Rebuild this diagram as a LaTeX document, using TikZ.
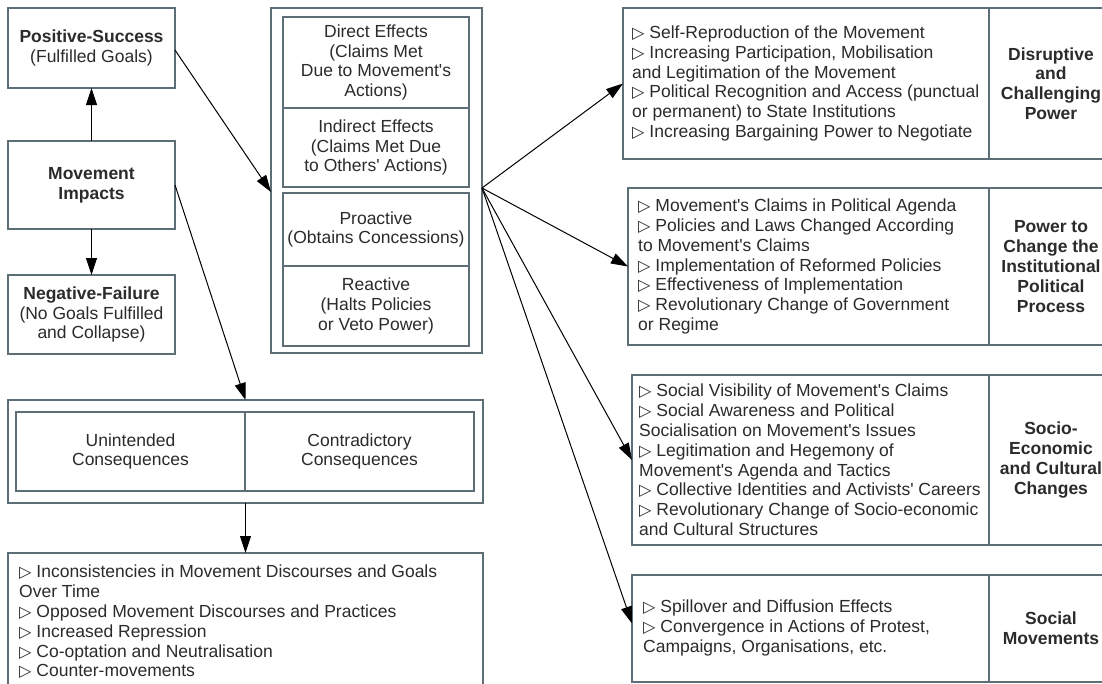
\documentclass[tikz,border=0pt]{standalone}
\usepackage{fontspec}
\setmainfont{Liberation Sans}
\newfontfamily\dejavu{DejaVu Sans}
\usetikzlibrary{arrows.meta}
\newcommand\tri{{\dejavu\bfseries\scalebox{0.92}{▷}}\ }
\newcommand\ap{\textquotesingle}
\definecolor{bord}{HTML}{5E6E76}
\definecolor{txt}{HTML}{2B2B2B}
\begin{document}
\begin{tikzpicture}[x=1pt,y=-1pt,
  box/.style={draw=bord,line width=1.2pt,inner sep=0pt,outer sep=0pt,anchor=north west,
    text=txt,font=\fontsize{17.5}{19.8}\selectfont,align=center},
  bbox/.style={box,font=\fontsize{17.5}{19.8}\selectfont\bfseries},
  list/.style={text=txt,font=\fontsize{17.5}{19.8}\selectfont,align=left,inner sep=0pt,anchor=west},
  arr/.style={-{Triangle[length=17pt,width=11pt]},line width=1pt,black}]
\useasboundingbox (0,0) rectangle (1102,683);
\fill[white] (0,0) rectangle (1102,683);
\clip (0,0) rectangle (1102,683);

% left column
\node[box,minimum width=167,minimum height=80] (pos) at (8,8) {\textbf{Positive-Success}\\(Fulfilled Goals)};
\node[bbox,minimum width=167,minimum height=88] (mi) at (8,141) {Movement\\Impacts};
\node[box,minimum width=167,minimum height=79] (neg) at (8,275) {\textbf{Negative-Failure}\\(No Goals Fulfilled\\and Collapse)};

% effects
\node[box,minimum width=211,minimum height=345] (eff) at (271,8) {};
\node[box,minimum width=186,minimum height=91] (d1) at (283,17) {Direct Effects\\(Claims Met\\Due to Movement\ap s\\Actions)};
\node[box,minimum width=186,minimum height=79] (d2) at (283,108) {Indirect Effects\\(Claims Met Due\\to Others\ap{} Actions)};
\node[box,minimum width=186,minimum height=73] (p1) at (283,193) {Proactive\\(Obtains Concessions)};
\node[box,minimum width=186,minimum height=80] (p2) at (283,266) {Reactive\\(Halts Policies\\or Veto Power)};

% consequences
\node[box,minimum width=475,minimum height=103] (cons) at (8,400) {};
\node[box,minimum width=229,minimum height=79] (un) at (16,412) {Unintended\\Consequences};
\node[box,minimum width=229,minimum height=79] (co) at (245,412) {Contradictory\\Consequences};
\node[box,minimum width=475,minimum height=140] (bot) at (8,553) {};
\node[list] (botl) at (19,622) {\tri Inconsistencies in Movement Discourses and Goals\\
Over Time\\
\tri Opposed Movement Discourses and Practices\\
\tri Increased Repression\\
\tri Co-optation and Neutralisation\\
\tri Counter-movements};

% right column
\node[box,minimum width=366,minimum height=151] (r1) at (623,8) {};
\node[bbox,minimum width=124,minimum height=151] (l1) at (989,8) {Disruptive\\and\\Challenging\\Power};
\node[list] (t1) at (632,83.5) {\tri Self-Reproduction of the Movement\\
\tri Increasing Participation, Mobilisation\\
and Legitimation of the Movement\\
\tri Political Recognition and Access (punctual\\
or permanent) to State Institutions\\
\tri Increasing Bargaining Power to Negotiate};

\node[box,minimum width=361,minimum height=157] (r2) at (628,188) {};
\node[bbox,minimum width=124,minimum height=157] (l2) at (989,188) {Power to\\Change the\\Institutional\\Political\\Process};
\node[list] (t2) at (638,266.5) {\tri Movement\ap s Claims in Political Agenda\\
\tri Policies and Laws Changed According\\
to Movement\ap s Claims\\
\tri Implementation of Reformed Policies\\
\tri Effectiveness of Implementation\\
\tri Revolutionary Change of Government\\
or Regime};

\node[box,minimum width=357,minimum height=170] (r3) at (632,375) {};
\node[bbox,minimum width=124,minimum height=170] (l3) at (989,375) {Socio-\\Economic\\and Cultural\\Changes};
\node[list] (t3) at (639,460) {\tri Social Visibility of Movement\ap s Claims\\
\tri Social Awareness and Political\\
Socialisation on Movement\ap s Issues\\
\tri Legitimation and Hegemony of\\
Movement\ap s Agenda and Tactics\\
\tri Collective Identities and Activists\ap{} Careers\\
\tri Revolutionary Change of Socio-economic\\
and Cultural Structures};

\node[box,minimum width=357,minimum height=107] (r4) at (632,575) {};
\node[bbox,minimum width=124,minimum height=107] (l4) at (989,575) {Social\\Movements};
\node[list] (t4) at (643,628) {\tri Spillover and Diffusion Effects\\
\tri Convergence in Actions of Protest,\\
Campaigns, Organisations, etc.};

% connectors
\draw[arr] (mi.north) -- (pos.south);
\draw[arr] (mi.south) -- (neg.north);
\draw[arr] ([yshift=-2pt]pos.east) -- ([yshift=-11.5pt]eff.west);
\draw[arr] (mi.east) -- (cons.north);
\draw[arr] (cons.south) -- (bot.north);
\draw[arr] ([yshift=-7.5pt]eff.east) -- (r1.west);
\draw[arr] ([yshift=-7.5pt]eff.east) -- (r2.west);
\draw[arr] ([yshift=-7.5pt]eff.east) -- (r3.west);
\draw[arr] ([yshift=-7.5pt]eff.east) -- ([yshift=5pt]r4.west);
\end{tikzpicture}
\end{document}
